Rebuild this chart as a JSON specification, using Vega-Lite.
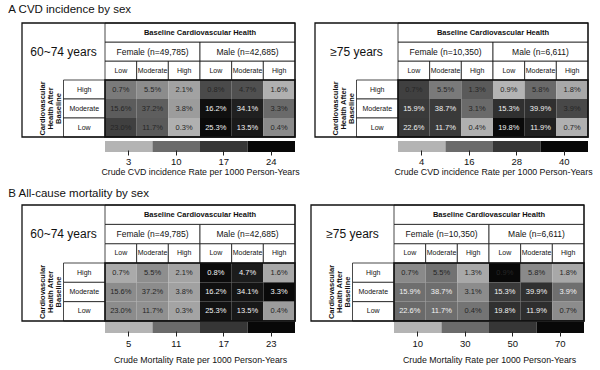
{
  "$schema": "https://vega.github.io/schema/vega-lite/v6.json",
  "padding": {"left": 8, "top": 3, "right": 4, "bottom": 2},
  "background": "white",
  "config": {
    "view": {"stroke": null},
    "font": "Liberation Sans",
    "text": {"font": "Liberation Sans"},
    "title": {"font": "Liberation Sans", "fontSize": 11.5, "fontWeight": "normal", "anchor": "start", "color": "#111111"},
    "axis": {"labelFont": "Liberation Sans", "titleFont": "Liberation Sans"}
  },
  "datasets": {
    "al": [
      {"age": "60~74 years", "group": "Female (n=49,785)", "base": "Low", "col": "Female Low", "after": "High", "pct": "0.7%", "rate": 8.6},
      {"age": "60~74 years", "group": "Female (n=49,785)", "base": "Low", "col": "Female Low", "after": "Moderate", "pct": "15.6%", "rate": 12.0},
      {"age": "60~74 years", "group": "Female (n=49,785)", "base": "Low", "col": "Female Low", "after": "Low", "pct": "23.0%", "rate": 15.7},
      {"age": "60~74 years", "group": "Female (n=49,785)", "base": "Moderate", "col": "Female Moderate", "after": "High", "pct": "5.5%", "rate": 6.8},
      {"age": "60~74 years", "group": "Female (n=49,785)", "base": "Moderate", "col": "Female Moderate", "after": "Moderate", "pct": "37.2%", "rate": 11.7},
      {"age": "60~74 years", "group": "Female (n=49,785)", "base": "Moderate", "col": "Female Moderate", "after": "Low", "pct": "11.7%", "rate": 12.2},
      {"age": "60~74 years", "group": "Female (n=49,785)", "base": "High", "col": "Female High", "after": "High", "pct": "2.1%", "rate": 4.7},
      {"age": "60~74 years", "group": "Female (n=49,785)", "base": "High", "col": "Female High", "after": "Moderate", "pct": "3.8%", "rate": 5.3},
      {"age": "60~74 years", "group": "Female (n=49,785)", "base": "High", "col": "Female High", "after": "Low", "pct": "0.3%", "rate": 3.4},
      {"age": "60~74 years", "group": "Male (n=42,685)", "base": "Low", "col": "Male Low", "after": "High", "pct": "0.8%", "rate": 14.4},
      {"age": "60~74 years", "group": "Male (n=42,685)", "base": "Low", "col": "Male Low", "after": "Moderate", "pct": "16.2%", "rate": 22.8},
      {"age": "60~74 years", "group": "Male (n=42,685)", "base": "Low", "col": "Male Low", "after": "Low", "pct": "25.3%", "rate": 23.7},
      {"age": "60~74 years", "group": "Male (n=42,685)", "base": "Moderate", "col": "Male Moderate", "after": "High", "pct": "4.7%", "rate": 13.6},
      {"age": "60~74 years", "group": "Male (n=42,685)", "base": "Moderate", "col": "Male Moderate", "after": "Moderate", "pct": "34.1%", "rate": 20.3},
      {"age": "60~74 years", "group": "Male (n=42,685)", "base": "Moderate", "col": "Male Moderate", "after": "Low", "pct": "13.5%", "rate": 21.3},
      {"age": "60~74 years", "group": "Male (n=42,685)", "base": "High", "col": "Male High", "after": "High", "pct": "1.6%", "rate": 3.4},
      {"age": "60~74 years", "group": "Male (n=42,685)", "base": "High", "col": "Male High", "after": "Moderate", "pct": "3.3%", "rate": 10.1},
      {"age": "60~74 years", "group": "Male (n=42,685)", "base": "High", "col": "Male High", "after": "Low", "pct": "0.4%", "rate": 7.0}
    ],
    "ar": [
      {"age": "≥75 years", "group": "Female (n=10,350)", "base": "Low", "col": "Female Low", "after": "High", "pct": "0.7%", "rate": 25.7},
      {"age": "≥75 years", "group": "Female (n=10,350)", "base": "Low", "col": "Female Low", "after": "Moderate", "pct": "15.9%", "rate": 27.1},
      {"age": "≥75 years", "group": "Female (n=10,350)", "base": "Low", "col": "Female Low", "after": "Low", "pct": "22.6%", "rate": 27.5},
      {"age": "≥75 years", "group": "Female (n=10,350)", "base": "Moderate", "col": "Female Moderate", "after": "High", "pct": "5.5%", "rate": 13.5},
      {"age": "≥75 years", "group": "Female (n=10,350)", "base": "Moderate", "col": "Female Moderate", "after": "Moderate", "pct": "38.7%", "rate": 27.1},
      {"age": "≥75 years", "group": "Female (n=10,350)", "base": "Moderate", "col": "Female Moderate", "after": "Low", "pct": "11.7%", "rate": 27.1},
      {"age": "≥75 years", "group": "Female (n=10,350)", "base": "High", "col": "Female High", "after": "High", "pct": "1.3%", "rate": 19.8},
      {"age": "≥75 years", "group": "Female (n=10,350)", "base": "High", "col": "Female High", "after": "Moderate", "pct": "3.1%", "rate": 16.2},
      {"age": "≥75 years", "group": "Female (n=10,350)", "base": "High", "col": "Female High", "after": "Low", "pct": "0.4%", "rate": 4.7},
      {"age": "≥75 years", "group": "Male (n=6,611)", "base": "Low", "col": "Male Low", "after": "High", "pct": "0.9%", "rate": 4.0},
      {"age": "≥75 years", "group": "Male (n=6,611)", "base": "Low", "col": "Male Low", "after": "Moderate", "pct": "15.3%", "rate": 29.6},
      {"age": "≥75 years", "group": "Male (n=6,611)", "base": "Low", "col": "Male Low", "after": "Low", "pct": "19.8%", "rate": 39.5},
      {"age": "≥75 years", "group": "Male (n=6,611)", "base": "Moderate", "col": "Male Moderate", "after": "High", "pct": "5.8%", "rate": 16.2},
      {"age": "≥75 years", "group": "Male (n=6,611)", "base": "Moderate", "col": "Male Moderate", "after": "Moderate", "pct": "39.9%", "rate": 29.6},
      {"age": "≥75 years", "group": "Male (n=6,611)", "base": "Moderate", "col": "Male Moderate", "after": "Low", "pct": "11.9%", "rate": 33.7},
      {"age": "≥75 years", "group": "Male (n=6,611)", "base": "High", "col": "Male High", "after": "High", "pct": "1.8%", "rate": 6.0},
      {"age": "≥75 years", "group": "Male (n=6,611)", "base": "High", "col": "Male High", "after": "Moderate", "pct": "3.9%", "rate": 23.9},
      {"age": "≥75 years", "group": "Male (n=6,611)", "base": "High", "col": "Male High", "after": "Low", "pct": "0.7%", "rate": 4.7}
    ],
    "bl": [
      {"age": "60~74 years", "group": "Female (n=49,785)", "base": "Low", "col": "Female Low", "after": "High", "pct": "0.7%", "rate": 5.8},
      {"age": "60~74 years", "group": "Female (n=49,785)", "base": "Low", "col": "Female Low", "after": "Moderate", "pct": "15.6%", "rate": 8.3},
      {"age": "60~74 years", "group": "Female (n=49,785)", "base": "Low", "col": "Female Low", "after": "Low", "pct": "23.0%", "rate": 8.3},
      {"age": "60~74 years", "group": "Female (n=49,785)", "base": "Moderate", "col": "Female Moderate", "after": "High", "pct": "5.5%", "rate": 8.1},
      {"age": "60~74 years", "group": "Female (n=49,785)", "base": "Moderate", "col": "Female Moderate", "after": "Moderate", "pct": "37.2%", "rate": 8.3},
      {"age": "60~74 years", "group": "Female (n=49,785)", "base": "Moderate", "col": "Female Moderate", "after": "Low", "pct": "11.7%", "rate": 8.0},
      {"age": "60~74 years", "group": "Female (n=49,785)", "base": "High", "col": "Female High", "after": "High", "pct": "2.1%", "rate": 6.3},
      {"age": "60~74 years", "group": "Female (n=49,785)", "base": "High", "col": "Female High", "after": "Moderate", "pct": "3.8%", "rate": 6.6},
      {"age": "60~74 years", "group": "Female (n=49,785)", "base": "High", "col": "Female High", "after": "Low", "pct": "0.3%", "rate": 6.3},
      {"age": "60~74 years", "group": "Male (n=42,685)", "base": "Low", "col": "Male Low", "after": "High", "pct": "0.8%", "rate": 22.5},
      {"age": "60~74 years", "group": "Male (n=42,685)", "base": "Low", "col": "Male Low", "after": "Moderate", "pct": "16.2%", "rate": 22.0},
      {"age": "60~74 years", "group": "Male (n=42,685)", "base": "Low", "col": "Male Low", "after": "Low", "pct": "25.3%", "rate": 21.7},
      {"age": "60~74 years", "group": "Male (n=42,685)", "base": "Moderate", "col": "Male Moderate", "after": "High", "pct": "4.7%", "rate": 20.4},
      {"age": "60~74 years", "group": "Male (n=42,685)", "base": "Moderate", "col": "Male Moderate", "after": "Moderate", "pct": "34.1%", "rate": 21.4},
      {"age": "60~74 years", "group": "Male (n=42,685)", "base": "Moderate", "col": "Male Moderate", "after": "Low", "pct": "13.5%", "rate": 20.9},
      {"age": "60~74 years", "group": "Male (n=42,685)", "base": "High", "col": "Male High", "after": "High", "pct": "1.6%", "rate": 6.0},
      {"age": "60~74 years", "group": "Male (n=42,685)", "base": "High", "col": "Male High", "after": "Moderate", "pct": "3.3%", "rate": 22.7},
      {"age": "60~74 years", "group": "Male (n=42,685)", "base": "High", "col": "Male High", "after": "Low", "pct": "0.4%", "rate": 7.0}
    ],
    "br": [
      {"age": "≥75 years", "group": "Female (n=10,350)", "base": "Low", "col": "Female Low", "after": "High", "pct": "0.7%", "rate": 21.5},
      {"age": "≥75 years", "group": "Female (n=10,350)", "base": "Low", "col": "Female Low", "after": "Moderate", "pct": "15.9%", "rate": 29.0},
      {"age": "≥75 years", "group": "Female (n=10,350)", "base": "Low", "col": "Female Low", "after": "Low", "pct": "22.6%", "rate": 30.4},
      {"age": "≥75 years", "group": "Female (n=10,350)", "base": "Moderate", "col": "Female Moderate", "after": "High", "pct": "5.5%", "rate": 28.0},
      {"age": "≥75 years", "group": "Female (n=10,350)", "base": "Moderate", "col": "Female Moderate", "after": "Moderate", "pct": "38.7%", "rate": 29.2},
      {"age": "≥75 years", "group": "Female (n=10,350)", "base": "Moderate", "col": "Female Moderate", "after": "Low", "pct": "11.7%", "rate": 29.2},
      {"age": "≥75 years", "group": "Female (n=10,350)", "base": "High", "col": "Female High", "after": "High", "pct": "1.3%", "rate": 13.3},
      {"age": "≥75 years", "group": "Female (n=10,350)", "base": "High", "col": "Female High", "after": "Moderate", "pct": "3.1%", "rate": 21.0},
      {"age": "≥75 years", "group": "Female (n=10,350)", "base": "High", "col": "Female High", "after": "Low", "pct": "0.4%", "rate": 27.5},
      {"age": "≥75 years", "group": "Male (n=6,611)", "base": "Low", "col": "Male Low", "after": "High", "pct": "0.9%", "rate": 70.0},
      {"age": "≥75 years", "group": "Male (n=6,611)", "base": "Low", "col": "Male Low", "after": "Moderate", "pct": "15.3%", "rate": 48.5},
      {"age": "≥75 years", "group": "Male (n=6,611)", "base": "Low", "col": "Male Low", "after": "Low", "pct": "19.8%", "rate": 52.6},
      {"age": "≥75 years", "group": "Male (n=6,611)", "base": "Moderate", "col": "Male Moderate", "after": "High", "pct": "5.8%", "rate": 21.5},
      {"age": "≥75 years", "group": "Male (n=6,611)", "base": "Moderate", "col": "Male Moderate", "after": "Moderate", "pct": "39.9%", "rate": 52.6},
      {"age": "≥75 years", "group": "Male (n=6,611)", "base": "Moderate", "col": "Male Moderate", "after": "Low", "pct": "11.9%", "rate": 53.5},
      {"age": "≥75 years", "group": "Male (n=6,611)", "base": "High", "col": "Male High", "after": "High", "pct": "1.8%", "rate": 13.3},
      {"age": "≥75 years", "group": "Male (n=6,611)", "base": "High", "col": "Male High", "after": "Moderate", "pct": "3.9%", "rate": 29.0},
      {"age": "≥75 years", "group": "Male (n=6,611)", "base": "High", "col": "Male High", "after": "Low", "pct": "0.7%", "rate": 21.0}
    ]
  },
  "spacing": 10,
  "resolve": {"scale": {"color": "independent"}},
  "vconcat": [
    {
      "title": {"text": "A CVD incidence by sex", "dx": -13, "offset": 7},
      "spacing": 14,
      "resolve": {"scale": {"color": "independent"}},
      "hconcat": [
        {
          "width": 273, "height": 129,
          "data": {"name": "al"},
          "resolve": {"scale": {"x": "independent", "y": "independent"}, "axis": {"x": "independent", "y": "independent"}},
          "layer": [
            {"mark": {"type": "rect"},
             "encoding": {
               "x": {"field": "col", "type": "nominal", "scale": {"domain": ["Female Low","Female Moderate","Female High","Male Low","Male Moderate","Male High"], "range": [83, 273], "paddingInner": 0, "paddingOuter": 0}, "axis": null},
               "y": {"field": "after", "type": "nominal", "scale": {"domain": ["High","Moderate","Low"], "range": [57, 114], "paddingInner": 0, "paddingOuter": 0}, "axis": null},
               "color": {"field": "rate", "type": "quantitative", "scale": {"domain": [3, 10, 17, 24], "range": ["#b4b4b4","#6b6b6b","#363636","#080808"], "clamp": true, "interpolate": "rgb"}, "legend": null}}},
            {"mark": {"type": "text", "fontSize": 7.5},
             "encoding": {
               "x": {"field": "col", "type": "nominal", "scale": {"domain": ["Female Low","Female Moderate","Female High","Male Low","Male Moderate","Male High"], "range": [83, 273], "paddingInner": 0, "paddingOuter": 0}, "axis": null},
               "y": {"field": "after", "type": "nominal", "scale": {"domain": ["High","Moderate","Low"], "range": [57, 114], "paddingInner": 0, "paddingOuter": 0}, "axis": null},
               "text": {"field": "pct"},
               "color": {"condition": {"test": "datum.rate > 17", "value": "#f2f2f2"}, "value": "#262626"}}},
            {"transform": [{"filter": "datum.after === 'High'"}],
             "mark": {"type": "rect", "fill": "white", "stroke": "#1a1a1a", "strokeWidth": 0.8},
             "encoding": {
               "x": {"field": "col", "type": "nominal", "scale": {"domain": ["Female Low","Female Moderate","Female High","Male Low","Male Moderate","Male High"], "range": [83, 273], "paddingInner": 0, "paddingOuter": 0}, "axis": null},
               "y": {"datum": "b", "type": "nominal", "scale": {"domain": ["t","s","b"], "range": [0, 57], "paddingInner": 0, "paddingOuter": 0}, "axis": null}}},
            {"transform": [{"filter": "datum.after === 'High'"}],
             "mark": {"type": "text", "fontSize": 7, "color": "#111111"},
             "encoding": {
               "x": {"field": "col", "type": "nominal", "scale": {"domain": ["Female Low","Female Moderate","Female High","Male Low","Male Moderate","Male High"], "range": [83, 273], "paddingInner": 0, "paddingOuter": 0}, "axis": null},
               "y": {"datum": "b", "type": "nominal", "scale": {"domain": ["t","s","b"], "range": [0, 57], "paddingInner": 0, "paddingOuter": 0}, "axis": null},
               "text": {"field": "base"}}},
            {"transform": [{"filter": "datum.after === 'High' && datum.base === 'Low'"}],
             "mark": {"type": "rect", "fill": "white", "stroke": "#1a1a1a", "strokeWidth": 0.8},
             "encoding": {
               "x": {"field": "group", "type": "nominal", "scale": {"domain": ["Female (n=49,785)","Male (n=42,685)"], "range": [83, 273], "paddingInner": 0, "paddingOuter": 0}, "axis": null},
               "y": {"datum": "s", "type": "nominal", "scale": {"domain": ["t","s","b"], "range": [0, 57], "paddingInner": 0, "paddingOuter": 0}, "axis": null}}},
            {"transform": [{"filter": "datum.after === 'High' && datum.base === 'Low'"}],
             "mark": {"type": "text", "fontSize": 8.5, "color": "#111111"},
             "encoding": {
               "x": {"field": "group", "type": "nominal", "scale": {"domain": ["Female (n=49,785)","Male (n=42,685)"], "range": [83, 273], "paddingInner": 0, "paddingOuter": 0}, "axis": null},
               "y": {"datum": "s", "type": "nominal", "scale": {"domain": ["t","s","b"], "range": [0, 57], "paddingInner": 0, "paddingOuter": 0}, "axis": null},
               "text": {"field": "group"}}},
            {"transform": [{"filter": "datum.after === 'High' && datum.col === 'Female Low'"}],
             "mark": {"type": "rect", "fill": "white", "stroke": "#1a1a1a", "strokeWidth": 0.8},
             "encoding": {
               "x": {"datum": "all", "type": "nominal", "scale": {"domain": ["all"], "range": [83, 273], "paddingInner": 0, "paddingOuter": 0}, "axis": null},
               "y": {"datum": "t", "type": "nominal", "scale": {"domain": ["t","s","b"], "range": [0, 57], "paddingInner": 0, "paddingOuter": 0}, "axis": null}}},
            {"transform": [{"filter": "datum.after === 'High' && datum.col === 'Female Low'"}],
             "mark": {"type": "text", "fontSize": 7.5, "fontWeight": "bold", "color": "#111111", "text": "Baseline Cardiovascular Health"},
             "encoding": {
               "x": {"datum": "all", "type": "nominal", "scale": {"domain": ["all"], "range": [83, 273], "paddingInner": 0, "paddingOuter": 0}, "axis": null},
               "y": {"datum": "t", "type": "nominal", "scale": {"domain": ["t","s","b"], "range": [0, 57], "paddingInner": 0, "paddingOuter": 0}, "axis": null}}},
            {"transform": [{"filter": "datum.after === 'High' && datum.col === 'Female Low'"}],
             "mark": {"type": "text", "fontSize": 12, "color": "#111111"},
             "encoding": {
               "x": {"datum": "h", "type": "nominal", "scale": {"domain": ["h"], "range": [0, 83], "paddingInner": 0, "paddingOuter": 0}, "axis": null},
               "y": {"datum": "hdr", "type": "nominal", "scale": {"domain": ["hdr"], "range": [0, 57], "paddingInner": 0, "paddingOuter": 0}, "axis": null},
               "text": {"field": "age"}}},
            {"transform": [{"filter": "datum.col === 'Female Low'"}],
             "mark": {"type": "rect", "fill": "white", "stroke": "#1a1a1a", "strokeWidth": 0.8},
             "encoding": {
               "x": {"datum": "lab", "type": "nominal", "scale": {"domain": ["ttl","lab"], "range": [0, 83], "paddingInner": 0, "paddingOuter": 0}, "axis": null},
               "y": {"field": "after", "type": "nominal", "scale": {"domain": ["High","Moderate","Low"], "range": [57, 114], "paddingInner": 0, "paddingOuter": 0}, "axis": null}}},
            {"transform": [{"filter": "datum.col === 'Female Low'"}],
             "mark": {"type": "text", "fontSize": 7, "color": "#111111"},
             "encoding": {
               "x": {"datum": "lab", "type": "nominal", "scale": {"domain": ["ttl","lab"], "range": [0, 83], "paddingInner": 0, "paddingOuter": 0}, "axis": null},
               "y": {"field": "after", "type": "nominal", "scale": {"domain": ["High","Moderate","Low"], "range": [57, 114], "paddingInner": 0, "paddingOuter": 0}, "axis": null},
               "text": {"field": "after"}}},
            {"transform": [{"filter": "datum.after === 'High' && datum.col === 'Female Low'"}],
             "mark": {"type": "text", "fontSize": 7.5, "fontWeight": "bold", "color": "#111111", "angle": 270, "lineHeight": 8, "text": ["Cardiovascular", "Health After", "Baseline"]},
             "encoding": {
               "x": {"datum": "ttl", "type": "nominal", "scale": {"domain": ["ttl","lab"], "range": [0, 83], "paddingInner": 0, "paddingOuter": 0}, "axis": null},
               "y": {"datum": "body", "type": "nominal", "scale": {"domain": ["body"], "range": [57, 114], "paddingInner": 0, "paddingOuter": 0}, "axis": null}}},
            {"transform": [{"filter": "datum.after === 'High' && datum.col === 'Female Low'"}],
             "mark": {"type": "rect", "fill": "white", "fillOpacity": 0, "stroke": "#111111", "strokeWidth": 1.5},
             "encoding": {
               "x": {"datum": "all", "type": "nominal", "scale": {"domain": ["all"], "range": [83, 273], "paddingInner": 0, "paddingOuter": 0}, "axis": null},
               "y": {"datum": "body", "type": "nominal", "scale": {"domain": ["body"], "range": [57, 114], "paddingInner": 0, "paddingOuter": 0}, "axis": null}}},
            {"transform": [{"filter": "datum.after === 'High' && datum.col === 'Female Low'"}],
             "mark": {"type": "rect", "fill": "white", "fillOpacity": 0, "stroke": "#111111", "strokeWidth": 1.3},
             "encoding": {
               "x": {"datum": "all", "type": "nominal", "scale": {"domain": ["all"], "range": [0, 273], "paddingInner": 0, "paddingOuter": 0}, "axis": null},
               "y": {"datum": "all", "type": "nominal", "scale": {"domain": ["all"], "range": [0, 114], "paddingInner": 0, "paddingOuter": 0}, "axis": null}}},
            {"data": {"values": [{"tick": 3}, {"tick": 10}, {"tick": 17}, {"tick": 24}]},
             "mark": {"type": "rect"},
             "encoding": {
               "x": {"field": "tick", "type": "ordinal", "scale": {"domain": [3, 10, 17, 24], "range": [83, 273], "paddingInner": 0, "paddingOuter": 0},
                     "axis": {"orient": "bottom", "title": "Crude CVD incidence Rate per 1000 Person-Years", "domain": false, "offset": -2, "tickSize": 5, "tickColor": "#222222", "labelAngle": 0, "labelFontSize": 9.5, "labelColor": "#111111", "labelPadding": 1, "titleFontSize": 8.8, "titleFontWeight": "normal", "titleColor": "#111111", "titlePadding": 2}},
               "y": {"datum": "bar", "type": "nominal", "scale": {"domain": ["bar"], "range": [118, 129], "paddingInner": 0, "paddingOuter": 0}, "axis": null},
               "color": {"field": "tick", "type": "quantitative", "scale": {"domain": [3, 10, 17, 24], "range": ["#b4b4b4","#6b6b6b","#363636","#080808"], "clamp": true, "interpolate": "rgb"}, "legend": null}}}
          ]
        },
        {
          "width": 273, "height": 129,
          "data": {"name": "ar"},
          "resolve": {"scale": {"x": "independent", "y": "independent"}, "axis": {"x": "independent", "y": "independent"}},
          "layer": [
            {"mark": {"type": "rect"},
             "encoding": {
               "x": {"field": "col", "type": "nominal", "scale": {"domain": ["Female Low","Female Moderate","Female High","Male Low","Male Moderate","Male High"], "range": [83, 273], "paddingInner": 0, "paddingOuter": 0}, "axis": null},
               "y": {"field": "after", "type": "nominal", "scale": {"domain": ["High","Moderate","Low"], "range": [57, 114], "paddingInner": 0, "paddingOuter": 0}, "axis": null},
               "color": {"field": "rate", "type": "quantitative", "scale": {"domain": [4, 16, 28, 40], "range": ["#b4b4b4","#6b6b6b","#363636","#080808"], "clamp": true, "interpolate": "rgb"}, "legend": null}}},
            {"mark": {"type": "text", "fontSize": 7.5},
             "encoding": {
               "x": {"field": "col", "type": "nominal", "scale": {"domain": ["Female Low","Female Moderate","Female High","Male Low","Male Moderate","Male High"], "range": [83, 273], "paddingInner": 0, "paddingOuter": 0}, "axis": null},
               "y": {"field": "after", "type": "nominal", "scale": {"domain": ["High","Moderate","Low"], "range": [57, 114], "paddingInner": 0, "paddingOuter": 0}, "axis": null},
               "text": {"field": "pct"},
               "color": {"condition": {"test": "datum.rate > 26", "value": "#f2f2f2"}, "value": "#262626"}}},
            {"transform": [{"filter": "datum.after === 'High'"}],
             "mark": {"type": "rect", "fill": "white", "stroke": "#1a1a1a", "strokeWidth": 0.8},
             "encoding": {
               "x": {"field": "col", "type": "nominal", "scale": {"domain": ["Female Low","Female Moderate","Female High","Male Low","Male Moderate","Male High"], "range": [83, 273], "paddingInner": 0, "paddingOuter": 0}, "axis": null},
               "y": {"datum": "b", "type": "nominal", "scale": {"domain": ["t","s","b"], "range": [0, 57], "paddingInner": 0, "paddingOuter": 0}, "axis": null}}},
            {"transform": [{"filter": "datum.after === 'High'"}],
             "mark": {"type": "text", "fontSize": 7, "color": "#111111"},
             "encoding": {
               "x": {"field": "col", "type": "nominal", "scale": {"domain": ["Female Low","Female Moderate","Female High","Male Low","Male Moderate","Male High"], "range": [83, 273], "paddingInner": 0, "paddingOuter": 0}, "axis": null},
               "y": {"datum": "b", "type": "nominal", "scale": {"domain": ["t","s","b"], "range": [0, 57], "paddingInner": 0, "paddingOuter": 0}, "axis": null},
               "text": {"field": "base"}}},
            {"transform": [{"filter": "datum.after === 'High' && datum.base === 'Low'"}],
             "mark": {"type": "rect", "fill": "white", "stroke": "#1a1a1a", "strokeWidth": 0.8},
             "encoding": {
               "x": {"field": "group", "type": "nominal", "scale": {"domain": ["Female (n=10,350)","Male (n=6,611)"], "range": [83, 273], "paddingInner": 0, "paddingOuter": 0}, "axis": null},
               "y": {"datum": "s", "type": "nominal", "scale": {"domain": ["t","s","b"], "range": [0, 57], "paddingInner": 0, "paddingOuter": 0}, "axis": null}}},
            {"transform": [{"filter": "datum.after === 'High' && datum.base === 'Low'"}],
             "mark": {"type": "text", "fontSize": 8.5, "color": "#111111"},
             "encoding": {
               "x": {"field": "group", "type": "nominal", "scale": {"domain": ["Female (n=10,350)","Male (n=6,611)"], "range": [83, 273], "paddingInner": 0, "paddingOuter": 0}, "axis": null},
               "y": {"datum": "s", "type": "nominal", "scale": {"domain": ["t","s","b"], "range": [0, 57], "paddingInner": 0, "paddingOuter": 0}, "axis": null},
               "text": {"field": "group"}}},
            {"transform": [{"filter": "datum.after === 'High' && datum.col === 'Female Low'"}],
             "mark": {"type": "rect", "fill": "white", "stroke": "#1a1a1a", "strokeWidth": 0.8},
             "encoding": {
               "x": {"datum": "all", "type": "nominal", "scale": {"domain": ["all"], "range": [83, 273], "paddingInner": 0, "paddingOuter": 0}, "axis": null},
               "y": {"datum": "t", "type": "nominal", "scale": {"domain": ["t","s","b"], "range": [0, 57], "paddingInner": 0, "paddingOuter": 0}, "axis": null}}},
            {"transform": [{"filter": "datum.after === 'High' && datum.col === 'Female Low'"}],
             "mark": {"type": "text", "fontSize": 7.5, "fontWeight": "bold", "color": "#111111", "text": "Baseline Cardiovascular Health"},
             "encoding": {
               "x": {"datum": "all", "type": "nominal", "scale": {"domain": ["all"], "range": [83, 273], "paddingInner": 0, "paddingOuter": 0}, "axis": null},
               "y": {"datum": "t", "type": "nominal", "scale": {"domain": ["t","s","b"], "range": [0, 57], "paddingInner": 0, "paddingOuter": 0}, "axis": null}}},
            {"transform": [{"filter": "datum.after === 'High' && datum.col === 'Female Low'"}],
             "mark": {"type": "text", "fontSize": 12, "color": "#111111"},
             "encoding": {
               "x": {"datum": "h", "type": "nominal", "scale": {"domain": ["h"], "range": [0, 83], "paddingInner": 0, "paddingOuter": 0}, "axis": null},
               "y": {"datum": "hdr", "type": "nominal", "scale": {"domain": ["hdr"], "range": [0, 57], "paddingInner": 0, "paddingOuter": 0}, "axis": null},
               "text": {"field": "age"}}},
            {"transform": [{"filter": "datum.col === 'Female Low'"}],
             "mark": {"type": "rect", "fill": "white", "stroke": "#1a1a1a", "strokeWidth": 0.8},
             "encoding": {
               "x": {"datum": "lab", "type": "nominal", "scale": {"domain": ["ttl","lab"], "range": [0, 83], "paddingInner": 0, "paddingOuter": 0}, "axis": null},
               "y": {"field": "after", "type": "nominal", "scale": {"domain": ["High","Moderate","Low"], "range": [57, 114], "paddingInner": 0, "paddingOuter": 0}, "axis": null}}},
            {"transform": [{"filter": "datum.col === 'Female Low'"}],
             "mark": {"type": "text", "fontSize": 7, "color": "#111111"},
             "encoding": {
               "x": {"datum": "lab", "type": "nominal", "scale": {"domain": ["ttl","lab"], "range": [0, 83], "paddingInner": 0, "paddingOuter": 0}, "axis": null},
               "y": {"field": "after", "type": "nominal", "scale": {"domain": ["High","Moderate","Low"], "range": [57, 114], "paddingInner": 0, "paddingOuter": 0}, "axis": null},
               "text": {"field": "after"}}},
            {"transform": [{"filter": "datum.after === 'High' && datum.col === 'Female Low'"}],
             "mark": {"type": "text", "fontSize": 7.5, "fontWeight": "bold", "color": "#111111", "angle": 270, "lineHeight": 8, "text": ["Cardiovascular", "Health After", "Baseline"]},
             "encoding": {
               "x": {"datum": "ttl", "type": "nominal", "scale": {"domain": ["ttl","lab"], "range": [0, 83], "paddingInner": 0, "paddingOuter": 0}, "axis": null},
               "y": {"datum": "body", "type": "nominal", "scale": {"domain": ["body"], "range": [57, 114], "paddingInner": 0, "paddingOuter": 0}, "axis": null}}},
            {"transform": [{"filter": "datum.after === 'High' && datum.col === 'Female Low'"}],
             "mark": {"type": "rect", "fill": "white", "fillOpacity": 0, "stroke": "#111111", "strokeWidth": 1.5},
             "encoding": {
               "x": {"datum": "all", "type": "nominal", "scale": {"domain": ["all"], "range": [83, 273], "paddingInner": 0, "paddingOuter": 0}, "axis": null},
               "y": {"datum": "body", "type": "nominal", "scale": {"domain": ["body"], "range": [57, 114], "paddingInner": 0, "paddingOuter": 0}, "axis": null}}},
            {"transform": [{"filter": "datum.after === 'High' && datum.col === 'Female Low'"}],
             "mark": {"type": "rect", "fill": "white", "fillOpacity": 0, "stroke": "#111111", "strokeWidth": 1.3},
             "encoding": {
               "x": {"datum": "all", "type": "nominal", "scale": {"domain": ["all"], "range": [0, 273], "paddingInner": 0, "paddingOuter": 0}, "axis": null},
               "y": {"datum": "all", "type": "nominal", "scale": {"domain": ["all"], "range": [0, 114], "paddingInner": 0, "paddingOuter": 0}, "axis": null}}},
            {"data": {"values": [{"tick": 4}, {"tick": 16}, {"tick": 28}, {"tick": 40}]},
             "mark": {"type": "rect"},
             "encoding": {
               "x": {"field": "tick", "type": "ordinal", "scale": {"domain": [4, 16, 28, 40], "range": [83, 273], "paddingInner": 0, "paddingOuter": 0},
                     "axis": {"orient": "bottom", "title": "Crude CVD incidence Rate per 1000 Person-Years", "domain": false, "offset": -2, "tickSize": 5, "tickColor": "#222222", "labelAngle": 0, "labelFontSize": 9.5, "labelColor": "#111111", "labelPadding": 1, "titleFontSize": 8.8, "titleFontWeight": "normal", "titleColor": "#111111", "titlePadding": 2}},
               "y": {"datum": "bar", "type": "nominal", "scale": {"domain": ["bar"], "range": [118, 129], "paddingInner": 0, "paddingOuter": 0}, "axis": null},
               "color": {"field": "tick", "type": "quantitative", "scale": {"domain": [4, 16, 28, 40], "range": ["#b4b4b4","#6b6b6b","#363636","#080808"], "clamp": true, "interpolate": "rgb"}, "legend": null}}}
          ]
        }
      ]
    },
    {
      "title": {"text": "B All-cause mortality by sex", "dx": -13, "offset": 5},
      "spacing": 14,
      "resolve": {"scale": {"color": "independent"}},
      "hconcat": [
        {
          "width": 273, "height": 128,
          "data": {"name": "bl"},
          "resolve": {"scale": {"x": "independent", "y": "independent"}, "axis": {"x": "independent", "y": "independent"}},
          "layer": [
            {"mark": {"type": "rect"},
             "encoding": {
               "x": {"field": "col", "type": "nominal", "scale": {"domain": ["Female Low","Female Moderate","Female High","Male Low","Male Moderate","Male High"], "range": [83, 273], "paddingInner": 0, "paddingOuter": 0}, "axis": null},
               "y": {"field": "after", "type": "nominal", "scale": {"domain": ["High","Moderate","Low"], "range": [58, 116], "paddingInner": 0, "paddingOuter": 0}, "axis": null},
               "color": {"field": "rate", "type": "quantitative", "scale": {"domain": [5, 11, 17, 23], "range": ["#b4b4b4","#6b6b6b","#363636","#080808"], "clamp": true, "interpolate": "rgb"}, "legend": null}}},
            {"mark": {"type": "text", "fontSize": 7.5},
             "encoding": {
               "x": {"field": "col", "type": "nominal", "scale": {"domain": ["Female Low","Female Moderate","Female High","Male Low","Male Moderate","Male High"], "range": [83, 273], "paddingInner": 0, "paddingOuter": 0}, "axis": null},
               "y": {"field": "after", "type": "nominal", "scale": {"domain": ["High","Moderate","Low"], "range": [58, 116], "paddingInner": 0, "paddingOuter": 0}, "axis": null},
               "text": {"field": "pct"},
               "color": {"condition": {"test": "datum.rate > 15", "value": "#f2f2f2"}, "value": "#262626"}}},
            {"transform": [{"filter": "datum.after === 'High'"}],
             "mark": {"type": "rect", "fill": "white", "stroke": "#1a1a1a", "strokeWidth": 0.8},
             "encoding": {
               "x": {"field": "col", "type": "nominal", "scale": {"domain": ["Female Low","Female Moderate","Female High","Male Low","Male Moderate","Male High"], "range": [83, 273], "paddingInner": 0, "paddingOuter": 0}, "axis": null},
               "y": {"datum": "b", "type": "nominal", "scale": {"domain": ["t","s","b"], "range": [0, 58], "paddingInner": 0, "paddingOuter": 0}, "axis": null}}},
            {"transform": [{"filter": "datum.after === 'High'"}],
             "mark": {"type": "text", "fontSize": 7, "color": "#111111"},
             "encoding": {
               "x": {"field": "col", "type": "nominal", "scale": {"domain": ["Female Low","Female Moderate","Female High","Male Low","Male Moderate","Male High"], "range": [83, 273], "paddingInner": 0, "paddingOuter": 0}, "axis": null},
               "y": {"datum": "b", "type": "nominal", "scale": {"domain": ["t","s","b"], "range": [0, 58], "paddingInner": 0, "paddingOuter": 0}, "axis": null},
               "text": {"field": "base"}}},
            {"transform": [{"filter": "datum.after === 'High' && datum.base === 'Low'"}],
             "mark": {"type": "rect", "fill": "white", "stroke": "#1a1a1a", "strokeWidth": 0.8},
             "encoding": {
               "x": {"field": "group", "type": "nominal", "scale": {"domain": ["Female (n=49,785)","Male (n=42,685)"], "range": [83, 273], "paddingInner": 0, "paddingOuter": 0}, "axis": null},
               "y": {"datum": "s", "type": "nominal", "scale": {"domain": ["t","s","b"], "range": [0, 58], "paddingInner": 0, "paddingOuter": 0}, "axis": null}}},
            {"transform": [{"filter": "datum.after === 'High' && datum.base === 'Low'"}],
             "mark": {"type": "text", "fontSize": 8.5, "color": "#111111"},
             "encoding": {
               "x": {"field": "group", "type": "nominal", "scale": {"domain": ["Female (n=49,785)","Male (n=42,685)"], "range": [83, 273], "paddingInner": 0, "paddingOuter": 0}, "axis": null},
               "y": {"datum": "s", "type": "nominal", "scale": {"domain": ["t","s","b"], "range": [0, 58], "paddingInner": 0, "paddingOuter": 0}, "axis": null},
               "text": {"field": "group"}}},
            {"transform": [{"filter": "datum.after === 'High' && datum.col === 'Female Low'"}],
             "mark": {"type": "rect", "fill": "white", "stroke": "#1a1a1a", "strokeWidth": 0.8},
             "encoding": {
               "x": {"datum": "all", "type": "nominal", "scale": {"domain": ["all"], "range": [83, 273], "paddingInner": 0, "paddingOuter": 0}, "axis": null},
               "y": {"datum": "t", "type": "nominal", "scale": {"domain": ["t","s","b"], "range": [0, 58], "paddingInner": 0, "paddingOuter": 0}, "axis": null}}},
            {"transform": [{"filter": "datum.after === 'High' && datum.col === 'Female Low'"}],
             "mark": {"type": "text", "fontSize": 7.5, "fontWeight": "bold", "color": "#111111", "text": "Baseline Cardiovascular Health"},
             "encoding": {
               "x": {"datum": "all", "type": "nominal", "scale": {"domain": ["all"], "range": [83, 273], "paddingInner": 0, "paddingOuter": 0}, "axis": null},
               "y": {"datum": "t", "type": "nominal", "scale": {"domain": ["t","s","b"], "range": [0, 58], "paddingInner": 0, "paddingOuter": 0}, "axis": null}}},
            {"transform": [{"filter": "datum.after === 'High' && datum.col === 'Female Low'"}],
             "mark": {"type": "text", "fontSize": 12, "color": "#111111"},
             "encoding": {
               "x": {"datum": "h", "type": "nominal", "scale": {"domain": ["h"], "range": [0, 83], "paddingInner": 0, "paddingOuter": 0}, "axis": null},
               "y": {"datum": "hdr", "type": "nominal", "scale": {"domain": ["hdr"], "range": [0, 58], "paddingInner": 0, "paddingOuter": 0}, "axis": null},
               "text": {"field": "age"}}},
            {"transform": [{"filter": "datum.col === 'Female Low'"}],
             "mark": {"type": "rect", "fill": "white", "stroke": "#1a1a1a", "strokeWidth": 0.8},
             "encoding": {
               "x": {"datum": "lab", "type": "nominal", "scale": {"domain": ["ttl","lab"], "range": [0, 83], "paddingInner": 0, "paddingOuter": 0}, "axis": null},
               "y": {"field": "after", "type": "nominal", "scale": {"domain": ["High","Moderate","Low"], "range": [58, 116], "paddingInner": 0, "paddingOuter": 0}, "axis": null}}},
            {"transform": [{"filter": "datum.col === 'Female Low'"}],
             "mark": {"type": "text", "fontSize": 7, "color": "#111111"},
             "encoding": {
               "x": {"datum": "lab", "type": "nominal", "scale": {"domain": ["ttl","lab"], "range": [0, 83], "paddingInner": 0, "paddingOuter": 0}, "axis": null},
               "y": {"field": "after", "type": "nominal", "scale": {"domain": ["High","Moderate","Low"], "range": [58, 116], "paddingInner": 0, "paddingOuter": 0}, "axis": null},
               "text": {"field": "after"}}},
            {"transform": [{"filter": "datum.after === 'High' && datum.col === 'Female Low'"}],
             "mark": {"type": "text", "fontSize": 7.5, "fontWeight": "bold", "color": "#111111", "angle": 270, "lineHeight": 8, "text": ["Cardiovascular", "Health After", "Baseline"]},
             "encoding": {
               "x": {"datum": "ttl", "type": "nominal", "scale": {"domain": ["ttl","lab"], "range": [0, 83], "paddingInner": 0, "paddingOuter": 0}, "axis": null},
               "y": {"datum": "body", "type": "nominal", "scale": {"domain": ["body"], "range": [58, 116], "paddingInner": 0, "paddingOuter": 0}, "axis": null}}},
            {"transform": [{"filter": "datum.after === 'High' && datum.col === 'Female Low'"}],
             "mark": {"type": "rect", "fill": "white", "fillOpacity": 0, "stroke": "#111111", "strokeWidth": 1.5},
             "encoding": {
               "x": {"datum": "all", "type": "nominal", "scale": {"domain": ["all"], "range": [83, 273], "paddingInner": 0, "paddingOuter": 0}, "axis": null},
               "y": {"datum": "body", "type": "nominal", "scale": {"domain": ["body"], "range": [58, 116], "paddingInner": 0, "paddingOuter": 0}, "axis": null}}},
            {"transform": [{"filter": "datum.after === 'High' && datum.col === 'Female Low'"}],
             "mark": {"type": "rect", "fill": "white", "fillOpacity": 0, "stroke": "#111111", "strokeWidth": 1.3},
             "encoding": {
               "x": {"datum": "all", "type": "nominal", "scale": {"domain": ["all"], "range": [0, 273], "paddingInner": 0, "paddingOuter": 0}, "axis": null},
               "y": {"datum": "all", "type": "nominal", "scale": {"domain": ["all"], "range": [0, 116], "paddingInner": 0, "paddingOuter": 0}, "axis": null}}},
            {"data": {"values": [{"tick": 5}, {"tick": 11}, {"tick": 17}, {"tick": 23}]},
             "mark": {"type": "rect"},
             "encoding": {
               "x": {"field": "tick", "type": "ordinal", "scale": {"domain": [5, 11, 17, 23], "range": [83, 273], "paddingInner": 0, "paddingOuter": 0},
                     "axis": {"orient": "bottom", "title": "Crude Mortality Rate per 1000 Person-Years", "domain": false, "offset": -2, "tickSize": 5, "tickColor": "#222222", "labelAngle": 0, "labelFontSize": 9.5, "labelColor": "#111111", "labelPadding": 2, "titleFontSize": 8.8, "titleFontWeight": "normal", "titleColor": "#111111", "titlePadding": 8}},
               "y": {"datum": "bar", "type": "nominal", "scale": {"domain": ["bar"], "range": [117, 128], "paddingInner": 0, "paddingOuter": 0}, "axis": null},
               "color": {"field": "tick", "type": "quantitative", "scale": {"domain": [5, 11, 17, 23], "range": ["#b4b4b4","#6b6b6b","#363636","#080808"], "clamp": true, "interpolate": "rgb"}, "legend": null}}}
          ]
        },
        {
          "width": 273, "height": 128,
          "data": {"name": "br"},
          "resolve": {"scale": {"x": "independent", "y": "independent"}, "axis": {"x": "independent", "y": "independent"}},
          "layer": [
            {"mark": {"type": "rect"},
             "encoding": {
               "x": {"field": "col", "type": "nominal", "scale": {"domain": ["Female Low","Female Moderate","Female High","Male Low","Male Moderate","Male High"], "range": [83, 273], "paddingInner": 0, "paddingOuter": 0}, "axis": null},
               "y": {"field": "after", "type": "nominal", "scale": {"domain": ["High","Moderate","Low"], "range": [58, 116], "paddingInner": 0, "paddingOuter": 0}, "axis": null},
               "color": {"field": "rate", "type": "quantitative", "scale": {"domain": [10, 30, 50, 70], "range": ["#b4b4b4","#6b6b6b","#363636","#080808"], "clamp": true, "interpolate": "rgb"}, "legend": null}}},
            {"mark": {"type": "text", "fontSize": 7.5},
             "encoding": {
               "x": {"field": "col", "type": "nominal", "scale": {"domain": ["Female Low","Female Moderate","Female High","Male Low","Male Moderate","Male High"], "range": [83, 273], "paddingInner": 0, "paddingOuter": 0}, "axis": null},
               "y": {"field": "after", "type": "nominal", "scale": {"domain": ["High","Moderate","Low"], "range": [58, 116], "paddingInner": 0, "paddingOuter": 0}, "axis": null},
               "text": {"field": "pct"},
               "color": {"condition": {"test": "datum.rate > 28.5 && datum.rate < 60", "value": "#f2f2f2"}, "value": "#262626"}}},
            {"transform": [{"filter": "datum.after === 'High'"}],
             "mark": {"type": "rect", "fill": "white", "stroke": "#1a1a1a", "strokeWidth": 0.8},
             "encoding": {
               "x": {"field": "col", "type": "nominal", "scale": {"domain": ["Female Low","Female Moderate","Female High","Male Low","Male Moderate","Male High"], "range": [83, 273], "paddingInner": 0, "paddingOuter": 0}, "axis": null},
               "y": {"datum": "b", "type": "nominal", "scale": {"domain": ["t","s","b"], "range": [0, 58], "paddingInner": 0, "paddingOuter": 0}, "axis": null}}},
            {"transform": [{"filter": "datum.after === 'High'"}],
             "mark": {"type": "text", "fontSize": 7, "color": "#111111"},
             "encoding": {
               "x": {"field": "col", "type": "nominal", "scale": {"domain": ["Female Low","Female Moderate","Female High","Male Low","Male Moderate","Male High"], "range": [83, 273], "paddingInner": 0, "paddingOuter": 0}, "axis": null},
               "y": {"datum": "b", "type": "nominal", "scale": {"domain": ["t","s","b"], "range": [0, 58], "paddingInner": 0, "paddingOuter": 0}, "axis": null},
               "text": {"field": "base"}}},
            {"transform": [{"filter": "datum.after === 'High' && datum.base === 'Low'"}],
             "mark": {"type": "rect", "fill": "white", "stroke": "#1a1a1a", "strokeWidth": 0.8},
             "encoding": {
               "x": {"field": "group", "type": "nominal", "scale": {"domain": ["Female (n=10,350)","Male (n=6,611)"], "range": [83, 273], "paddingInner": 0, "paddingOuter": 0}, "axis": null},
               "y": {"datum": "s", "type": "nominal", "scale": {"domain": ["t","s","b"], "range": [0, 58], "paddingInner": 0, "paddingOuter": 0}, "axis": null}}},
            {"transform": [{"filter": "datum.after === 'High' && datum.base === 'Low'"}],
             "mark": {"type": "text", "fontSize": 8.5, "color": "#111111"},
             "encoding": {
               "x": {"field": "group", "type": "nominal", "scale": {"domain": ["Female (n=10,350)","Male (n=6,611)"], "range": [83, 273], "paddingInner": 0, "paddingOuter": 0}, "axis": null},
               "y": {"datum": "s", "type": "nominal", "scale": {"domain": ["t","s","b"], "range": [0, 58], "paddingInner": 0, "paddingOuter": 0}, "axis": null},
               "text": {"field": "group"}}},
            {"transform": [{"filter": "datum.after === 'High' && datum.col === 'Female Low'"}],
             "mark": {"type": "rect", "fill": "white", "stroke": "#1a1a1a", "strokeWidth": 0.8},
             "encoding": {
               "x": {"datum": "all", "type": "nominal", "scale": {"domain": ["all"], "range": [83, 273], "paddingInner": 0, "paddingOuter": 0}, "axis": null},
               "y": {"datum": "t", "type": "nominal", "scale": {"domain": ["t","s","b"], "range": [0, 58], "paddingInner": 0, "paddingOuter": 0}, "axis": null}}},
            {"transform": [{"filter": "datum.after === 'High' && datum.col === 'Female Low'"}],
             "mark": {"type": "text", "fontSize": 7.5, "fontWeight": "bold", "color": "#111111", "text": "Baseline Cardiovascular Health"},
             "encoding": {
               "x": {"datum": "all", "type": "nominal", "scale": {"domain": ["all"], "range": [83, 273], "paddingInner": 0, "paddingOuter": 0}, "axis": null},
               "y": {"datum": "t", "type": "nominal", "scale": {"domain": ["t","s","b"], "range": [0, 58], "paddingInner": 0, "paddingOuter": 0}, "axis": null}}},
            {"transform": [{"filter": "datum.after === 'High' && datum.col === 'Female Low'"}],
             "mark": {"type": "text", "fontSize": 12, "color": "#111111"},
             "encoding": {
               "x": {"datum": "h", "type": "nominal", "scale": {"domain": ["h"], "range": [0, 83], "paddingInner": 0, "paddingOuter": 0}, "axis": null},
               "y": {"datum": "hdr", "type": "nominal", "scale": {"domain": ["hdr"], "range": [0, 58], "paddingInner": 0, "paddingOuter": 0}, "axis": null},
               "text": {"field": "age"}}},
            {"transform": [{"filter": "datum.col === 'Female Low'"}],
             "mark": {"type": "rect", "fill": "white", "stroke": "#1a1a1a", "strokeWidth": 0.8},
             "encoding": {
               "x": {"datum": "lab", "type": "nominal", "scale": {"domain": ["ttl","lab"], "range": [0, 83], "paddingInner": 0, "paddingOuter": 0}, "axis": null},
               "y": {"field": "after", "type": "nominal", "scale": {"domain": ["High","Moderate","Low"], "range": [58, 116], "paddingInner": 0, "paddingOuter": 0}, "axis": null}}},
            {"transform": [{"filter": "datum.col === 'Female Low'"}],
             "mark": {"type": "text", "fontSize": 7, "color": "#111111"},
             "encoding": {
               "x": {"datum": "lab", "type": "nominal", "scale": {"domain": ["ttl","lab"], "range": [0, 83], "paddingInner": 0, "paddingOuter": 0}, "axis": null},
               "y": {"field": "after", "type": "nominal", "scale": {"domain": ["High","Moderate","Low"], "range": [58, 116], "paddingInner": 0, "paddingOuter": 0}, "axis": null},
               "text": {"field": "after"}}},
            {"transform": [{"filter": "datum.after === 'High' && datum.col === 'Female Low'"}],
             "mark": {"type": "text", "fontSize": 7.5, "fontWeight": "bold", "color": "#111111", "angle": 270, "lineHeight": 8, "text": ["Cardiovascular", "Health After", "Baseline"]},
             "encoding": {
               "x": {"datum": "ttl", "type": "nominal", "scale": {"domain": ["ttl","lab"], "range": [0, 83], "paddingInner": 0, "paddingOuter": 0}, "axis": null},
               "y": {"datum": "body", "type": "nominal", "scale": {"domain": ["body"], "range": [58, 116], "paddingInner": 0, "paddingOuter": 0}, "axis": null}}},
            {"transform": [{"filter": "datum.after === 'High' && datum.col === 'Female Low'"}],
             "mark": {"type": "rect", "fill": "white", "fillOpacity": 0, "stroke": "#111111", "strokeWidth": 1.5},
             "encoding": {
               "x": {"datum": "all", "type": "nominal", "scale": {"domain": ["all"], "range": [83, 273], "paddingInner": 0, "paddingOuter": 0}, "axis": null},
               "y": {"datum": "body", "type": "nominal", "scale": {"domain": ["body"], "range": [58, 116], "paddingInner": 0, "paddingOuter": 0}, "axis": null}}},
            {"transform": [{"filter": "datum.after === 'High' && datum.col === 'Female Low'"}],
             "mark": {"type": "rect", "fill": "white", "fillOpacity": 0, "stroke": "#111111", "strokeWidth": 1.3},
             "encoding": {
               "x": {"datum": "all", "type": "nominal", "scale": {"domain": ["all"], "range": [0, 273], "paddingInner": 0, "paddingOuter": 0}, "axis": null},
               "y": {"datum": "all", "type": "nominal", "scale": {"domain": ["all"], "range": [0, 116], "paddingInner": 0, "paddingOuter": 0}, "axis": null}}},
            {"data": {"values": [{"tick": 10}, {"tick": 30}, {"tick": 50}, {"tick": 70}]},
             "mark": {"type": "rect"},
             "encoding": {
               "x": {"field": "tick", "type": "ordinal", "scale": {"domain": [10, 30, 50, 70], "range": [83, 273], "paddingInner": 0, "paddingOuter": 0},
                     "axis": {"orient": "bottom", "title": "Crude Mortality Rate per 1000 Person-Years", "domain": false, "offset": -2, "tickSize": 5, "tickColor": "#222222", "labelAngle": 0, "labelFontSize": 9.5, "labelColor": "#111111", "labelPadding": 2, "titleFontSize": 8.8, "titleFontWeight": "normal", "titleColor": "#111111", "titlePadding": 8}},
               "y": {"datum": "bar", "type": "nominal", "scale": {"domain": ["bar"], "range": [117, 128], "paddingInner": 0, "paddingOuter": 0}, "axis": null},
               "color": {"field": "tick", "type": "quantitative", "scale": {"domain": [10, 30, 50, 70], "range": ["#b4b4b4","#6b6b6b","#363636","#080808"], "clamp": true, "interpolate": "rgb"}, "legend": null}}}
          ]
        }
      ]
    }
  ]
}
